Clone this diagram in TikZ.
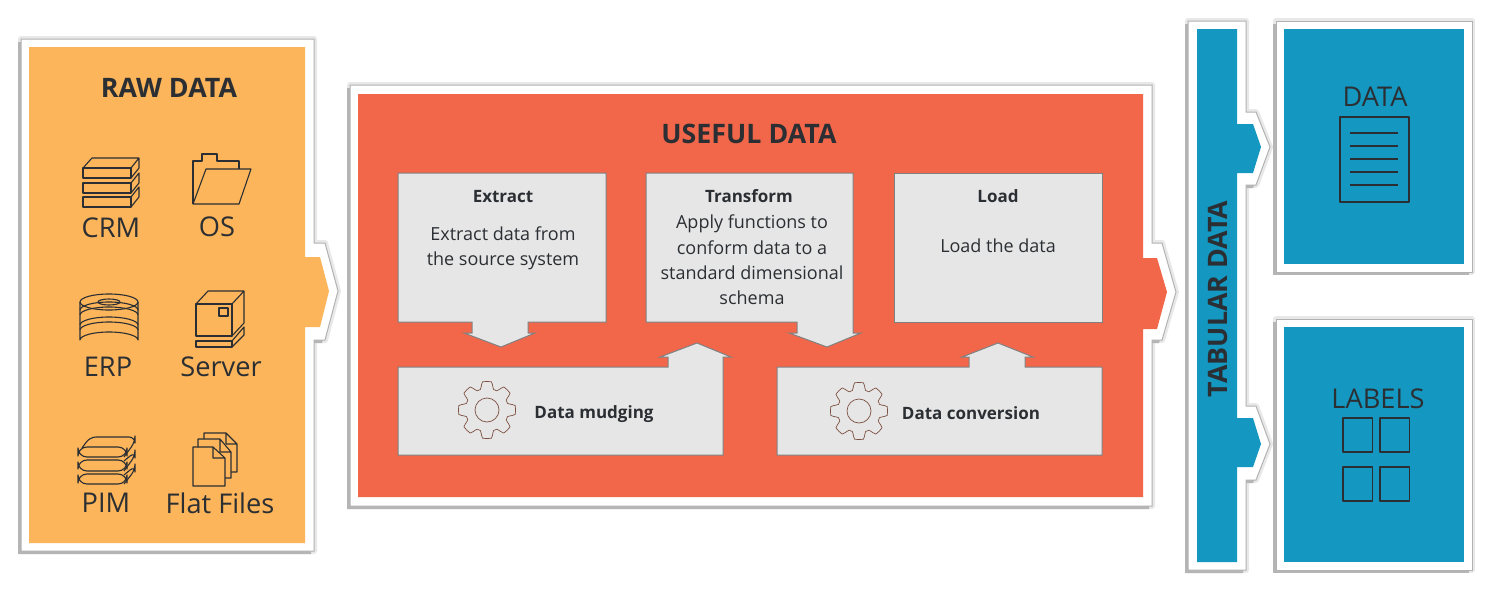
\documentclass[tikz,border=0pt]{standalone}
\usepackage{fontspec}
\setmainfont{Open Sans}
\usepackage{xcolor}
\usetikzlibrary{positioning}
\definecolor{rawfill}{RGB}{252,181,90}
\definecolor{usefill}{RGB}{242,103,74}
\definecolor{tabfill}{RGB}{20,151,192}
\definecolor{inkdark}{RGB}{43,47,51}
\definecolor{stepgrey}{RGB}{230,230,230}
\definecolor{gearline}{RGB}{125,80,65}
\tikzset{
  halo/.style   ={draw=black!9, fill=black!9, line width=3pt, line join=round},
  panelshade/.style ={fill=black!29, xshift=-1.5pt, yshift=-1.5pt},
  panelframe/.style ={draw=black!30, fill=white, line width=.5pt},
  stepbox/.style={draw=black!50, fill=stepgrey, line width=.5pt},
  icon/.style   ={draw=inkdark, line width=.55pt, line join=round},
  gearedge/.style   ={draw=gearline, line width=.35pt},
  headtext/.style   ={font=\bfseries\fontsize{13.4}{16}\selectfont, text=inkdark, inner sep=0pt},
  itemtext/.style   ={font=\fontsize{13.6}{15}\selectfont, text=inkdark, inner sep=0pt},
  titletext/.style  ={font=\bfseries\fontsize{8.5}{11}\selectfont, text=inkdark, inner sep=0pt, anchor=base},
  bodytext/.style   ={font=\fontsize{9}{12.7}\selectfont, text=inkdark, align=center, inner sep=0pt},
}
% white frame with its shadow, then the coloured shape on it
\newcommand{\panel}[3]{
  \draw[halo] #1 -- cycle;
  \fill[panelshade] #1 -- cycle;
  \draw[panelframe] #1 -- cycle;
  \fill[#3] #2 -- cycle;
}
\newcommand{\gearicon}[2]{
  \draw[gearedge] plot[smooth,domain=0:360,samples=121] ({#1+(25+3.5*max(-1,min(1,2*cos(8*\x)+.5)))*cos(\x)},{#2+(25+3.5*max(-1,min(1,2*cos(8*\x)+.5)))*sin(\x)}) -- cycle;
  \draw[gearedge] (#1,#2) circle (12);
}
\begin{document}
\begin{tikzpicture}[x=0.5pt,y=-0.5pt]
\useasboundingbox (0,0) rectangle (1500,594);

% raw data
\panel{(21,39) -- (314,39) -- (314,243) -- (325,243) -- (338,291) -- (325,340) -- (314,340) -- (314,551) -- (21,551)}
      {(29,47) -- (305,47) -- (305,257) -- (320,257) -- (329,291) -- (320,327) -- (305,327) -- (305,543) -- (29,543)}{rawfill}
\node[headtext] (rawtitle) at (169,88) {RAW DATA};
\node[itemtext] (crm) at (111,228) {CRM};
\node[itemtext] (os) at (217,227) {OS};
\node[itemtext] (erp) at (108,367) {ERP};
\node[itemtext] (server) at (221,367) {Server};
\node[itemtext] (pim) at (106,503) {PIM};
\node[itemtext] (flat) at (220,503) {Flat Files};

% crm stack
\draw[icon] (83,168) rectangle (131,178) (83,183) rectangle (131,193) (83,197) rectangle (131,207);
\draw[icon] (83,168) -- (92,158) -- (139,158) -- (131,168) (139,158) -- (139,168) -- (131,178);
\draw[icon] (131,183) -- (139,173) -- (139,183) -- (131,193);
\draw[icon] (131,197) -- (139,187) -- (139,197) -- (131,207);
% folder
\draw[icon] (193,204) -- (193,161) -- (202,161) -- (202,154) -- (217,154) -- (217,161) -- (239,161) -- (239,169);
\draw[icon] (206,169) -- (251,169) -- (239,204) -- (193,204) -- cycle;
% erp disks
\draw[icon] (109,302) ellipse (29 and 8) (109,302) ellipse (11 and 3);
\draw[icon] (80,302) -- (80,340) arc[start angle=180,end angle=360,x radius=29,y radius=8] -- (138,302);
\foreach \yA in {310,315,325,330}
  \draw[icon] (80,\yA) arc[start angle=180,end angle=360,x radius=29,y radius=8];
% server
\draw[icon] (196,304) rectangle (232,336) (219,308) rectangle (228,316) (196,341) rectangle (232,347);
\draw[icon] (196,304) -- (208,291) -- (244,291) -- (232,304) (244,291) -- (244,323) -- (232,336);
\draw[icon] (232,341) -- (244,327) -- (244,335) -- (232,347);
% pim pills
\draw[icon,rounded corners=3] (82,448) -- (90,437) -- (135,437) -- (135,442) -- (124,457);
\draw[icon,rounded corners=3] (124,461) -- (135,452) -- (135,456) -- (124,471);
\draw[icon,rounded corners=3] (124,475) -- (135,466) -- (135,470) -- (124,484);
\draw[icon,fill=rawfill,rounded corners=4.5] (78,447) rectangle (127,457) (78,460) rectangle (127,471) (78,474) rectangle (127,484);
% flat files
\draw[icon] (204,439) -- (204,433) -- (226,433) -- (237,444) -- (237,472) -- (231,472) (226,433) -- (226,444) -- (237,444);
\draw[icon] (198,447) -- (198,439) -- (220,439) -- (231,452) -- (231,478) -- (225,478) (220,439) -- (220,452) -- (231,452);
\draw[icon] (193,447) -- (213,447) -- (225,458) -- (225,486) -- (193,486) -- cycle (213,447) -- (213,458) -- (225,458);

% useful data
\panel{(350,85) -- (1152,85) -- (1152,243) -- (1162,243) -- (1176,292) -- (1162,340) -- (1152,340) -- (1152,506) -- (350,506)}
      {(358,94) -- (1143,94) -- (1143,258) -- (1157,258) -- (1167,292) -- (1157,329) -- (1143,329) -- (1143,497) -- (358,497)}{usefill}
\node[headtext] (usetitle) at (749,134) {USEFUL DATA};
\draw[stepbox] (398,173) -- (606,173) -- (606,322) -- (528,322) -- (528,333) -- (535,333) -- (501,347) -- (464,333) -- (472,333) -- (472,322) -- (398,322) -- cycle;
\draw[stepbox] (646,173) -- (853,173) -- (853,333) -- (861,333) -- (827,347) -- (789,333) -- (797,333) -- (797,322) -- (646,322) -- cycle;
\draw[stepbox] (894,173) rectangle (1102,322);
\draw[stepbox] (398,367) -- (668,367) -- (668,357) -- (660,357) -- (697,343) -- (731,357) -- (723,357) -- (723,455) -- (398,455) -- cycle;
\draw[stepbox] (777,367) -- (969,367) -- (969,357) -- (962,357) -- (998,343) -- (1033,357) -- (1025,357) -- (1025,367) -- (1102,367) -- (1102,455) -- (777,455) -- cycle;
\node[titletext] (extract) at (503,202) {Extract};
\node[bodytext] (extracttext) at (503,248) {Extract data from\\the source system};
\node[titletext] (transform) at (749,202) {Transform};
\node[bodytext] (transformtext) at (752,260) {Apply functions to\\conform data to a\\standard dimensional\\schema};
\node[titletext] (load) at (998,202) {Load};
\node[bodytext] (loadtext) at (998,246) {Load the data};
\node[titletext] (mudging) at (594,418) {Data mudging};
\node[titletext] (conversion) at (971,419) {Data conversion};
\gearicon{487}{410}
\gearicon{859}{411}

% tabular data
\panel{(1188,21) -- (1246,21) -- (1246,112) -- (1256,112) -- (1270,147) -- (1256,185) -- (1246,185) -- (1246,406) -- (1256,406) -- (1270,444) -- (1256,480) -- (1246,480) -- (1246,570) -- (1188,570)}
      {(1197,29) -- (1237,29) -- (1237,124) -- (1253,124) -- (1261,147) -- (1253,173) -- (1237,173) -- (1237,418) -- (1253,418) -- (1261,444) -- (1253,467) -- (1237,467) -- (1237,562) -- (1197,562)}{tabfill}
\node[headtext,rotate=90] (tabtitle) at (1218,299) {TABULAR DATA};

\panel{(1276,21) -- (1472,21) -- (1472,272) -- (1276,272)}
      {(1284,29) -- (1464,29) -- (1464,264) -- (1284,264)}{tabfill}
\node[itemtext] (datatitle) at (1375,97) {DATA};
\draw[icon] (1340,117) rectangle (1409,202);
\foreach \yL in {133,146,159,172,185}
  \draw[icon] (1350,\yL) -- (1398,\yL);

\panel{(1276,319) -- (1472,319) -- (1472,570) -- (1276,570)}
      {(1284,327) -- (1464,327) -- (1464,562) -- (1284,562)}{tabfill}
\node[itemtext] (labeltitle) at (1378,399) {LABELS};
\foreach \xB in {1343,1380}
  \foreach \yB in {418,467}
    \draw[icon] (\xB,\yB) rectangle ++(29.5,34);
\end{tikzpicture}
\end{document}
